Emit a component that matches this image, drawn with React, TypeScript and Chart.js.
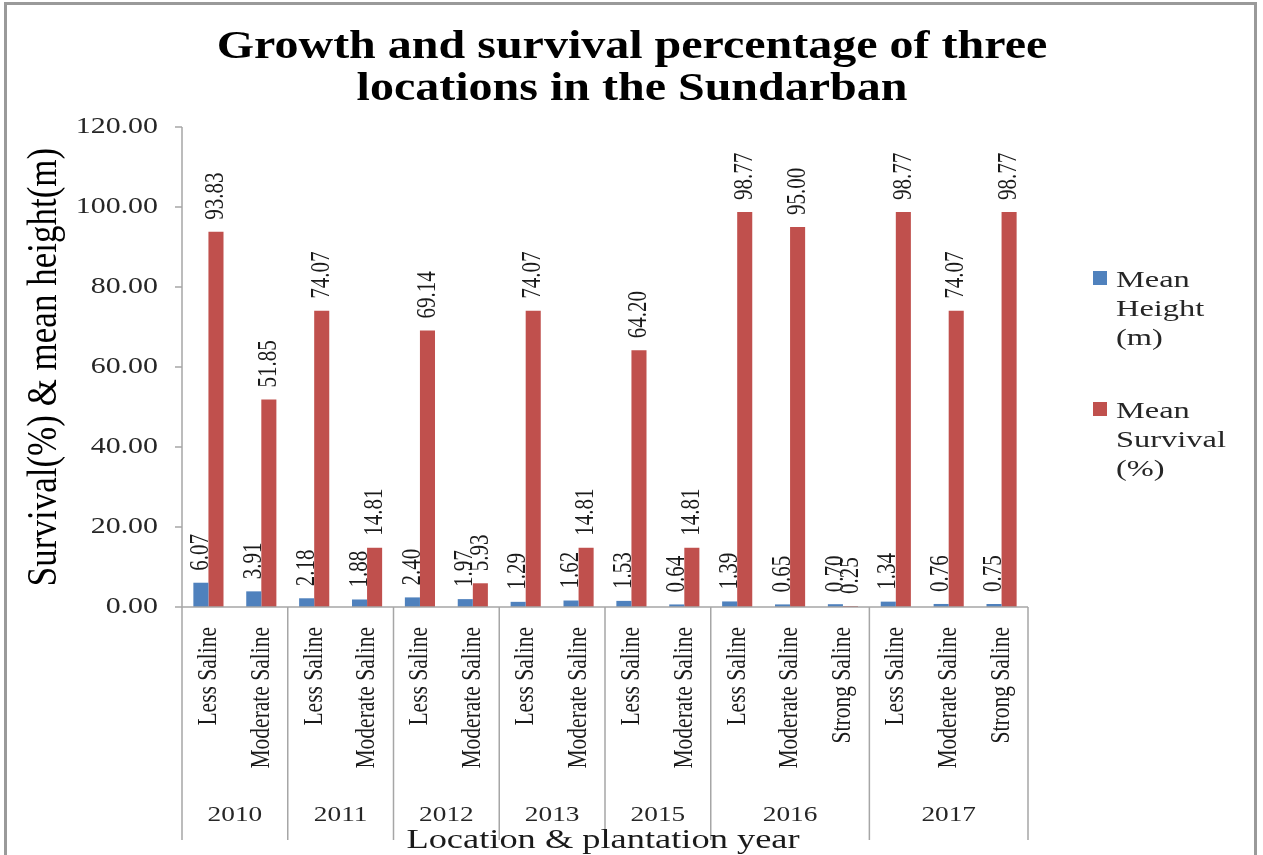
import React, { useEffect, useRef } from "react";
import { Chart, registerables } from "chart.js";

Chart.register(...registerables);

const titleLines = ["Growth and survival percentage of three", "locations in the Sundarban"];
const yTitle = "Survival(%) & mean height(m)";
const xTitle = "Location & plantation year";
const years = ["2010", "2011", "2012", "2013", "2015", "2016", "2017"];
const groupSizes = [2, 2, 2, 2, 2, 3, 3];
const categories = [
  "Less Saline", "Moderate Saline",
  "Less Saline", "Moderate Saline",
  "Less Saline", "Moderate Saline",
  "Less Saline", "Moderate Saline",
  "Less Saline", "Moderate Saline",
  "Less Saline", "Moderate Saline", "Strong Saline",
  "Less Saline", "Moderate Saline", "Strong Saline",
];
const meanHeight = [6.07, 3.91, 2.18, 1.88, 2.4, 1.97, 1.29, 1.62, 1.53, 0.64, 1.39, 0.65, 0.7, 1.34, 0.76, 0.75];
const meanSurvival = [93.83, 51.85, 74.07, 14.81, 69.14, 5.93, 74.07, 14.81, 64.2, 14.81, 98.77, 95.0, 0.25, 98.77, 74.07, 98.77];
const yTicks = [0, 20, 40, 60, 80, 100, 120];
const legendLabels = [
  ["Mean", "Height", "(m)"],
  ["Mean", "Survival", "(%)"],
];
const seriesColors = ["#4F81BD", "#C0504D"];

const SERIF = '"Liberation Serif", "Times New Roman", serif';

function drawText(
  ctx: CanvasRenderingContext2D,
  s: string,
  x: number,
  y: number,
  size: number,
  o: { bold?: boolean; align?: CanvasTextAlign; baseline?: CanvasTextBaseline; rot?: number; sx?: number; color?: string } = {}
) {
  ctx.save();
  ctx.translate(x, y);
  ctx.scale(o.sx ?? 1, 1);
  if (o.rot) ctx.rotate(o.rot);
  ctx.font = `${o.bold ? "bold " : ""}${size}px ${SERIF}`;
  ctx.textAlign = o.align ?? "left";
  ctx.textBaseline = o.baseline ?? "alphabetic";
  ctx.fillStyle = o.color ?? "#1a1a1a";
  ctx.fillText(s, 0, 0);
  ctx.restore();
}

const decorPlugin = {
  id: "decor",
  afterDatasetsDraw(chart: any) {
    const ctx: CanvasRenderingContext2D = chart.ctx;
    const { left, right } = chart.chartArea;
    const xs = chart.scales.x;
    const ys = chart.scales.y;
    const y0 = ys.getPixelForValue(0);
    const yTop = ys.getPixelForValue(120);
    const sepBottom = 840;
    const axisColor = "#a6a6a6";

    // frame
    ctx.save();
    ctx.strokeStyle = "#9a9a9a";
    ctx.lineWidth = 3;
    ctx.strokeRect(5.5, 3.5, 1250, 880);
    ctx.restore();

    // axes
    ctx.save();
    ctx.strokeStyle = axisColor;
    ctx.lineWidth = 1.5;
    ctx.beginPath();
    ctx.moveTo(left, yTop);
    ctx.lineTo(left, sepBottom);
    ctx.moveTo(left, y0);
    ctx.lineTo(right, y0);
    yTicks.forEach((v) => {
      const py = ys.getPixelForValue(v);
      ctx.moveTo(left - 7, py);
      ctx.lineTo(left, py);
    });
    let idx = 0;
    groupSizes.forEach((n) => {
      idx += n;
      let px: number;
      if (idx >= categories.length) px = right;
      else px = (xs.getPixelForValue(idx - 1) + xs.getPixelForValue(idx)) / 2;
      ctx.moveTo(px, y0);
      ctx.lineTo(px, sepBottom);
    });
    ctx.stroke();
    ctx.restore();

    // y tick labels
    yTicks.forEach((v) => {
      const py = ys.getPixelForValue(v);
      drawText(ctx, v.toFixed(2), left - 24, py, 23, { align: "right", baseline: "middle", sx: 1.3, color: "#262626" });
    });

    // category labels
    categories.forEach((c, i) => {
      const px = xs.getPixelForValue(i);
      drawText(ctx, c, px, y0 + 20, 21.5, { align: "right", baseline: "middle", rot: -Math.PI / 2, sx: 1.3, color: "#1a1a1a" });
    });

    // year labels
    let start = 0;
    groupSizes.forEach((n, g) => {
      const a = start === 0 ? left : (xs.getPixelForValue(start - 1) + xs.getPixelForValue(start)) / 2;
      const endIdx = start + n;
      const b = endIdx >= categories.length ? right : (xs.getPixelForValue(endIdx - 1) + xs.getPixelForValue(endIdx)) / 2;
      drawText(ctx, years[g], (a + b) / 2, 815, 21, { align: "center", baseline: "middle", sx: 1.3, color: "#262626" });
      start = endIdx;
    });

    // axis titles
    drawText(ctx, xTitle, 603, 848, 28, { align: "center", baseline: "alphabetic", sx: 1.3, color: "#1a1a1a" });
    drawText(ctx, yTitle, 45, 367, 35, { align: "center", baseline: "middle", rot: -Math.PI / 2, sx: 1.2, color: "#000" });

    // data labels
    chart.data.datasets.forEach((ds: any, di: number) => {
      const meta = chart.getDatasetMeta(di);
      meta.data.forEach((el: any, i: number) => {
        const v = ds.data[i] as number;
        drawText(ctx, v.toFixed(2), el.x, el.y - 12, 21, { align: "left", baseline: "middle", rot: -Math.PI / 2, sx: 1.3, color: "#1a1a1a" });
      });
    });

    // title
    drawText(ctx, titleLines[0], 632, 58, 40, { bold: true, align: "center", sx: 1.2, color: "#000" });
    drawText(ctx, titleLines[1], 632, 100, 40, { bold: true, align: "center", sx: 1.2, color: "#000" });

    // legend
    const legendTops = [271, 402];
    legendLabels.forEach((lines, k) => {
      const top = legendTops[k];
      ctx.save();
      ctx.fillStyle = seriesColors[k];
      ctx.fillRect(1093, top, 14, 14);
      ctx.restore();
      lines.forEach((ln, j) => {
        drawText(ctx, ln, 1116, top + 16 + j * 29, 23.5, { align: "left", sx: 1.38, color: "#262626" });
      });
    });
  },
};

export default function App() {
  const ref = useRef<HTMLCanvasElement | null>(null);
  useEffect(() => {
    document.body.style.margin = "0";
    const canvas = ref.current!;
    const chart = new Chart(canvas, {
      type: "bar",
      data: {
        labels: categories,
        datasets: [
          {
            label: "Mean Height (m)",
            data: meanHeight,
            backgroundColor: seriesColors[0],
            categoryPercentage: 0.57,
            barPercentage: 1,
          },
          {
            label: "Mean Survival (%)",
            data: meanSurvival,
            backgroundColor: seriesColors[1],
            categoryPercentage: 0.57,
            barPercentage: 1,
          },
        ],
      },
      options: {
        responsive: false,
        animation: false,
        devicePixelRatio: 1,
        layout: { padding: { left: 182, right: 1263 - 1028, top: 127, bottom: 855 - 607 } },
        plugins: { legend: { display: false }, title: { display: false }, tooltip: { enabled: false } },
        scales: {
          x: { display: false, offset: true, grid: { display: false } },
          y: { display: false, min: 0, max: 120, ticks: { stepSize: 20 }, grid: { display: false } },
        },
      },
      plugins: [decorPlugin],
    });
    return () => chart.destroy();
  }, []);
  return <canvas ref={ref} width={1263} height={855} style={{ display: "block" }} />;
}
